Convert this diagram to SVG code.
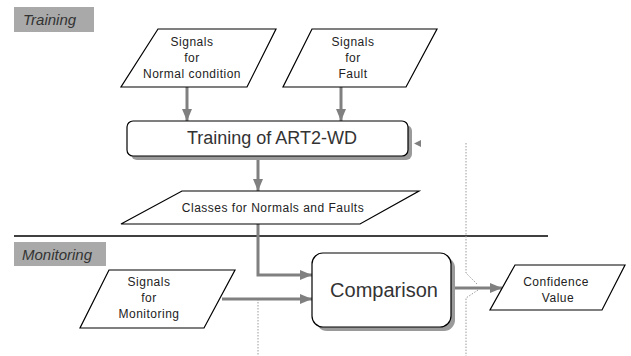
<svg xmlns="http://www.w3.org/2000/svg" width="631" height="356" viewBox="0 0 631 356">
  <defs>
    <marker id="arr" markerWidth="12" markerHeight="10" refX="12" refY="5" orient="auto" markerUnits="userSpaceOnUse">
      <path d="M0,0 L12,5 L0,10 Z" fill="#808080"/>
    </marker>
  </defs>
  <style>
    .io { fill: #ffffff; stroke: #000000; stroke-width: 1.2; }
    .box { fill: #ffffff; stroke: #000000; stroke-width: 1.2; }
    .shadow { fill: #9a9a9a; }
    .flow { fill: none; stroke: #808080; stroke-width: 3; }
    .dot { fill: none; stroke: #9a9a9a; stroke-width: 1; stroke-dasharray: 1.5 1.5; }
    .sec { fill: #a9a9a9; }
    .sect { font-family: "Liberation Sans", Arial, sans-serif; font-style: italic; font-size: 15px; fill: #333333; }
    .lbl { font-family: "Liberation Sans", Arial, sans-serif; font-size: 12px; fill: #222222; text-anchor: middle; letter-spacing: 0.5px; }
    .big { font-family: "Liberation Sans", Arial, sans-serif; fill: #333333; text-anchor: middle; }
  </style>

  <!-- section headers and separator -->
  <g id="section-training">
    <rect class="sec" x="14" y="7" width="80" height="25"/>
    <text class="sect" x="23" y="25">Training</text>
  </g>
  <line x1="14" y1="236" x2="548" y2="236" stroke="#000000" stroke-width="1.5"/>
  <g id="section-monitoring">
    <rect class="sec" x="14" y="242" width="92" height="24"/>
    <text class="sect" x="22" y="260">Monitoring</text>
  </g>

  <!-- dotted guide lines -->
  <g id="guides">
    <path class="dot" d="M466,143 V273 L478,285"/>
    <path class="dot" d="M478,290 L466,298 V356"/>
    <path class="dot" d="M258,299 V356"/>
  </g>

  <!-- connectors -->
  <g id="connectors">
    <line class="flow" x1="187" y1="87" x2="187" y2="121" marker-end="url(#arr)"/>
    <line class="flow" x1="341" y1="87" x2="341" y2="121" marker-end="url(#arr)"/>
    <line class="flow" x1="258" y1="159" x2="258" y2="191" marker-end="url(#arr)"/>
    <polyline class="flow" points="258,224 258,275 312,275" marker-end="url(#arr)"/>
    <line class="flow" x1="222" y1="299" x2="312" y2="299" marker-end="url(#arr)"/>
    <line class="flow" x1="455" y1="288" x2="502" y2="288" marker-end="url(#arr)"/>
    <path d="M421,140 L414,143.5 L421,147 Z" fill="#808080"/>
  </g>

  <g id="signals-normal">
    <polygon class="io" points="158,29 276,29 247,87 121,87"/>
    <text class="lbl" x="192" y="46">Signals</text>
    <text class="lbl" x="192" y="62">for</text>
    <text class="lbl" x="192" y="78">Normal condition</text>
  </g>

  <g id="signals-fault">
    <polygon class="io" points="312,29 437,29 406,87 283,87"/>
    <text class="lbl" x="353" y="46">Signals</text>
    <text class="lbl" x="353" y="62">for</text>
    <text class="lbl" x="353" y="78">Fault</text>
  </g>

  <g id="training">
    <rect class="shadow" x="131" y="125" width="281" height="35" rx="6"/>
    <rect class="box" x="127" y="121" width="281" height="35" rx="6"/>
    <text class="big" x="272" y="144" font-size="18">Training of ART2-WD</text>
  </g>

  <g id="classes">
    <polygon class="io" points="182,191 419,191 360,224 121,224"/>
    <text class="lbl" x="273" y="212">Classes for Normals and Faults</text>
  </g>

  <g id="signals-monitoring">
    <polygon class="io" points="109,270 235,270 204,328 80,328"/>
    <text class="lbl" x="149" y="286">Signals</text>
    <text class="lbl" x="149" y="302">for</text>
    <text class="lbl" x="149" y="318">Monitoring</text>
  </g>

  <g id="comparison">
    <rect class="shadow" x="316" y="257" width="139" height="74" rx="11"/>
    <rect class="box" x="312" y="253" width="139" height="74" rx="11"/>
    <text class="big" x="384" y="297" font-size="20">Comparison</text>
  </g>

  <g id="confidence">
    <polygon class="io" points="515,265 625,265 602,310 490,310"/>
    <text class="lbl" x="556" y="286">Confidence</text>
    <text class="lbl" x="558" y="302">Value</text>
  </g>
</svg>
